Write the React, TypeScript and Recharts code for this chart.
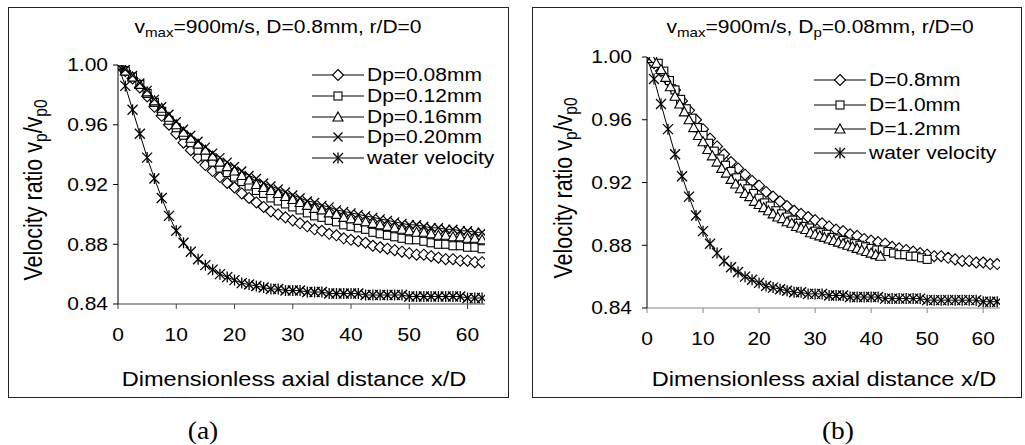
import React from 'react';
import { LineChart, Line, XAxis, YAxis } from 'recharts';

// ---------- data ----------
// axial distance from nozzle exit in mm (50 mm sampled at 1 mm)
const distanceMm = [0,1,2,3,4,5,6,7,8,9,10,11,12,13,14,15,16,17,18,19,20,21,22,23,24,25,26,27,28,29,30,31,32,33,34,35,36,37,38,39,40,41,42,43,44,45,46,47,48,49,50];
const xTicks = [0, 10, 20, 30, 40, 50, 60];
const yTicks = [0.84, 0.88, 0.92, 0.96, 1.0];

// (a) D = 0.8 mm, different particle diameters
const dp008 = [1.000,0.996,0.991,0.985,0.979,0.972,0.966,0.960,0.954,0.948,0.943,0.938,0.933,0.929,0.925,0.921,0.918,0.914,0.911,0.908,0.905,0.902,0.900,0.898,0.896,0.894,0.892,0.890,0.889,0.887,0.886,0.884,0.883,0.882,0.881,0.879,0.878,0.877,0.876,0.875,0.874,0.873,0.873,0.872,0.871,0.870,0.870,0.869,0.869,0.868,0.868];
const dp012 = [1.000,0.996,0.992,0.987,0.981,0.975,0.969,0.963,0.958,0.953,0.948,0.943,0.939,0.935,0.931,0.928,0.925,0.922,0.919,0.916,0.914,0.911,0.909,0.907,0.905,0.903,0.901,0.899,0.898,0.896,0.895,0.893,0.892,0.891,0.890,0.888,0.887,0.886,0.885,0.884,0.883,0.883,0.882,0.881,0.880,0.880,0.879,0.879,0.878,0.878,0.877];
const dp016 = [1.000,0.996,0.992,0.987,0.982,0.976,0.971,0.965,0.960,0.955,0.951,0.947,0.943,0.939,0.935,0.932,0.929,0.926,0.923,0.920,0.918,0.916,0.914,0.912,0.910,0.908,0.906,0.904,0.903,0.901,0.900,0.898,0.897,0.896,0.895,0.894,0.893,0.892,0.891,0.890,0.889,0.888,0.888,0.887,0.886,0.886,0.885,0.885,0.884,0.884,0.883];
const dp020 = [1.000,0.997,0.993,0.988,0.983,0.977,0.972,0.967,0.962,0.957,0.953,0.949,0.945,0.941,0.938,0.935,0.932,0.929,0.926,0.924,0.921,0.919,0.917,0.915,0.913,0.911,0.909,0.908,0.906,0.905,0.903,0.902,0.901,0.900,0.899,0.898,0.897,0.896,0.895,0.894,0.893,0.893,0.892,0.891,0.891,0.890,0.890,0.889,0.889,0.888,0.888];
const water = [1.000,0.986,0.970,0.954,0.938,0.924,0.911,0.899,0.889,0.881,0.875,0.870,0.866,0.863,0.860,0.858,0.856,0.854,0.853,0.852,0.851,0.850,0.850,0.849,0.849,0.849,0.848,0.848,0.848,0.847,0.847,0.847,0.847,0.847,0.846,0.846,0.846,0.846,0.846,0.846,0.845,0.845,0.845,0.845,0.845,0.845,0.845,0.845,0.844,0.844,0.844];

// (b) Dp = 0.08 mm, different nozzle diameters
const d08 = dp008;
const d10 = [1.000,0.999,0.996,0.991,0.985,0.979,0.973,0.967,0.961,0.955,0.950,0.945,0.940,0.935,0.931,0.927,0.923,0.919,0.916,0.913,0.910,0.907,0.905,0.902,0.900,0.898,0.896,0.894,0.892,0.891,0.889,0.888,0.887,0.885,0.884,0.883,0.882,0.881,0.880,0.879,0.878,0.877,0.877,0.876,0.875,0.874,0.874,0.873,0.873,0.872,0.871];
const d12 = [1.000,0.999,0.996,0.992,0.987,0.981,0.975,0.970,0.965,0.960,0.955,0.950,0.946,0.941,0.937,0.933,0.929,0.926,0.922,0.919,0.916,0.913,0.911,0.908,0.906,0.904,0.902,0.900,0.898,0.897,0.895,0.894,0.892,0.891,0.890,0.888,0.887,0.886,0.885,0.884,0.883,0.882,0.881,0.880,0.879,0.878,0.877,0.876,0.875,0.874,0.873];

const seriesA = [
  { name: 'Dp=0.08mm', D: 0.8, ys: dp008, shape: 'diamond' },
  { name: 'Dp=0.12mm', D: 0.8, ys: dp012, shape: 'square' },
  { name: 'Dp=0.16mm', D: 0.8, ys: dp016, shape: 'triangle' },
  { name: 'Dp=0.20mm', D: 0.8, ys: dp020, shape: 'x' },
  { name: 'water velocity', D: 0.8, ys: water, shape: 'star' },
];
const seriesB = [
  { name: 'D=0.8mm', D: 0.8, ys: d08, shape: 'diamond' },
  { name: 'D=1.0mm', D: 1.0, ys: d10, shape: 'square' },
  { name: 'D=1.2mm', D: 1.2, ys: d12, shape: 'triangle' },
  { name: 'water velocity', D: 0.8, ys: water, shape: 'star' },
];

const toPoints = (D: number, ys: number[]) => ys.map((y, i) => ({ x: distanceMm[i] / D, y }));

// ---------- drawing helpers ----------
const FONT = '"Liberation Sans", Arial, Helvetica, sans-serif';

function Marker({ shape, cx, cy }: { shape: string; cx: number; cy: number }) {
  const s = { fill: '#fff', stroke: '#000', strokeWidth: 1.1 };
  const ln = { stroke: '#000', strokeWidth: 1.3 };
  switch (shape) {
    case 'diamond': {
      const h = 5.5;
      return <polygon points={`${cx},${cy - h} ${cx + h},${cy} ${cx},${cy + h} ${cx - h},${cy}`} {...s} />;
    }
    case 'square': {
      const h = 4;
      return <rect x={cx - h} y={cy - h} width={2 * h} height={2 * h} {...s} />;
    }
    case 'triangle': {
      const h = 5;
      return <polygon points={`${cx},${cy - h} ${cx + h},${cy + h * 0.8} ${cx - h},${cy + h * 0.8}`} {...s} />;
    }
    case 'x': {
      const h = 4.5;
      return (
        <g>
          <line x1={cx - h} y1={cy - h} x2={cx + h} y2={cy + h} {...ln} />
          <line x1={cx - h} y1={cy + h} x2={cx + h} y2={cy - h} {...ln} />
        </g>
      );
    }
    case 'star': {
      const h = 5;
      return (
        <g>
          <line x1={cx - h} y1={cy - h} x2={cx + h} y2={cy + h} {...ln} />
          <line x1={cx - h} y1={cy + h} x2={cx + h} y2={cy - h} {...ln} />
          <line x1={cx} y1={cy - h - 0.5} x2={cx} y2={cy + h + 0.5} {...ln} />
        </g>
      );
    }
    default:
      return null;
  }
}

const XTick = (props: any) => {
  const { x, y, payload } = props;
  return (
    <g transform={`translate(${x},${y})`}>
      <text transform="scale(1.2,1)" textAnchor="middle" dy="0.71em" fontSize={17.5} fontFamily={FONT} fill="#000">
        {payload.value}
      </text>
    </g>
  );
};
const YTick = (props: any) => {
  const { x, y, payload } = props;
  return (
    <g transform={`translate(${x},${y})`}>
      <text transform="scale(1.2,1)" textAnchor="end" dy="0.36em" fontSize={17.5} fontFamily={FONT} fill="#000">
        {Number(payload.value).toFixed(2)}
      </text>
    </g>
  );
};

function Panel({ series, left, width, margin, yAxisWidth, xAxisColor, yTickMargin }: any) {
  return (
    <div style={{ position: 'absolute', left, top: 0 }}>
      <LineChart width={width} height={400} margin={margin}>
        <XAxis
          type="number"
          dataKey="x"
          domain={[0, 63]}
          ticks={xTicks}
          allowDataOverflow
          height={30}
          tickSize={5}
          tickMargin={20}
          tick={<XTick />}
          axisLine={{ stroke: xAxisColor, strokeWidth: 1.2 }}
          tickLine={{ stroke: xAxisColor }}
        />
        <YAxis
          type="number"
          domain={[0.84, 1.0]}
          ticks={yTicks}
          allowDataOverflow
          width={yAxisWidth}
          tickSize={5}
          tickMargin={yTickMargin}
          tick={<YTick />}
          axisLine={{ stroke: '#000' }}
          tickLine={{ stroke: '#000' }}
        />
        {series.map((s: any) => (
          <Line
            key={s.name}
            data={toPoints(s.D, s.ys)}
            dataKey="y"
            type="linear"
            stroke="#000"
            strokeWidth={1}
            isAnimationActive={false}
            activeDot={false}
            dot={(p: any) => <Marker key={`${s.name}-${p.index}`} shape={s.shape} cx={p.cx} cy={p.cy} />}
          />
        ))}
      </LineChart>
    </div>
  );
}

const stretch = (sx: number): React.CSSProperties => ({ display: 'inline-block', transform: `scaleX(${sx})`, transformOrigin: 'left center' });

function LegendBox({ series, x, rowY }: { series: any[]; x: number; rowY: number[] }) {
  return (
    <>
      {series.map((s, i) => (
        <div key={s.name} style={{ position: 'absolute', left: x, top: rowY[i] - 10, height: 20, display: 'flex', alignItems: 'center', whiteSpace: 'nowrap' }}>
          <svg width={52} height={14} style={{ display: 'block' }}>
            <line x1={0} y1={7} x2={52} y2={7} stroke="#000" strokeWidth={1} />
            <Marker shape={s.shape} cx={26} cy={7} />
          </svg>
          <span style={{ ...stretch(1.2), marginLeft: 3, fontFamily: FONT, fontSize: 17.5, lineHeight: '20px', color: '#000' }}>{s.name}</span>
        </div>
      ))}
    </>
  );
}

const sub: React.CSSProperties = { fontSize: '0.72em', verticalAlign: '-0.28em' };

function Title({ cx, cy, children }: any) {
  return (
    <div style={{ position: 'absolute', left: cx, top: cy, transform: 'translate(-50%,-50%) scaleX(1.2)', whiteSpace: 'nowrap', fontFamily: FONT, fontSize: 17.5, lineHeight: '22px', color: '#000' }}>
      {children}
    </div>
  );
}

function YTitle({ cx, cy }: { cx: number; cy: number }) {
  return (
    <div style={{ position: 'absolute', left: cx, top: cy, transform: 'translate(-50%,-50%) rotate(-90deg) scaleY(1.2)', whiteSpace: 'nowrap', fontFamily: FONT, fontSize: 21.5, lineHeight: '26px', color: '#000' }}>
      Velocity ratio v<span style={sub}>p</span>/v<span style={sub}>p0</span>
    </div>
  );
}

function XTitle({ cx, cy }: { cx: number; cy: number }) {
  return (
    <div style={{ position: 'absolute', left: cx, top: cy, transform: 'translate(-50%,-50%) scaleX(1.15)', whiteSpace: 'nowrap', fontFamily: FONT, fontSize: 20.5, lineHeight: '24px', color: '#000' }}>
      Dimensionless axial distance x/D
    </div>
  );
}

function Caption({ cx, cy, text }: { cx: number; cy: number; text: string }) {
  return (
    <div style={{ position: 'absolute', left: cx, top: cy, transform: 'translate(-50%,-50%) scaleX(1.1)', whiteSpace: 'nowrap', fontFamily: '"Liberation Serif", "Times New Roman", serif', fontSize: 25, fontWeight: 400, lineHeight: '28px', color: '#000' }}>
      {text}
    </div>
  );
}

export default function App() {
  return (
    <div style={{ position: 'absolute', left: 0, top: 0, width: 1025, height: 445, background: '#fff', overflow: 'hidden' }}>
      {/* panel borders */}
      <div style={{ position: 'absolute', left: 8, top: 7, width: 501, height: 391, boxSizing: 'border-box', border: '1.5px solid #222' }} />
      <div style={{ position: 'absolute', left: 532, top: 7, width: 490, height: 391, boxSizing: 'border-box', border: '1.5px solid #222' }} />

      <Panel series={seriesA} left={0} width={510} margin={{ top: 65, right: 25, bottom: 66, left: 0 }} yAxisWidth={118} xAxisColor="#444" yTickMargin={5} />
      <Panel series={seriesB} left={520} width={505} margin={{ top: 57, right: 25, bottom: 62, left: 0 }} yAxisWidth={127} xAxisColor="#888" yTickMargin={10} />

      <Title cx={278} cy={30}>
        v<span style={sub}>max</span>=900m/s, D=0.8mm, r/D=0
      </Title>
      <Title cx={820} cy={30}>
        v<span style={sub}>max</span>=900m/s, D<span style={sub}>p</span>=0.08mm, r/D=0
      </Title>

      <LegendBox series={seriesA} x={312} rowY={[75, 96, 117, 137, 158]} />
      <LegendBox series={seriesB} x={814} rowY={[80, 105, 129, 153]} />

      <YTitle cx={37} cy={190} />
      <YTitle cx={567} cy={188} />
      <XTitle cx={294} cy={379} />
      <XTitle cx={824} cy={379} />

      <Caption cx={203} cy={431} text="(a)" />
      <Caption cx={838} cy={431} text="(b)" />
    </div>
  );
}
